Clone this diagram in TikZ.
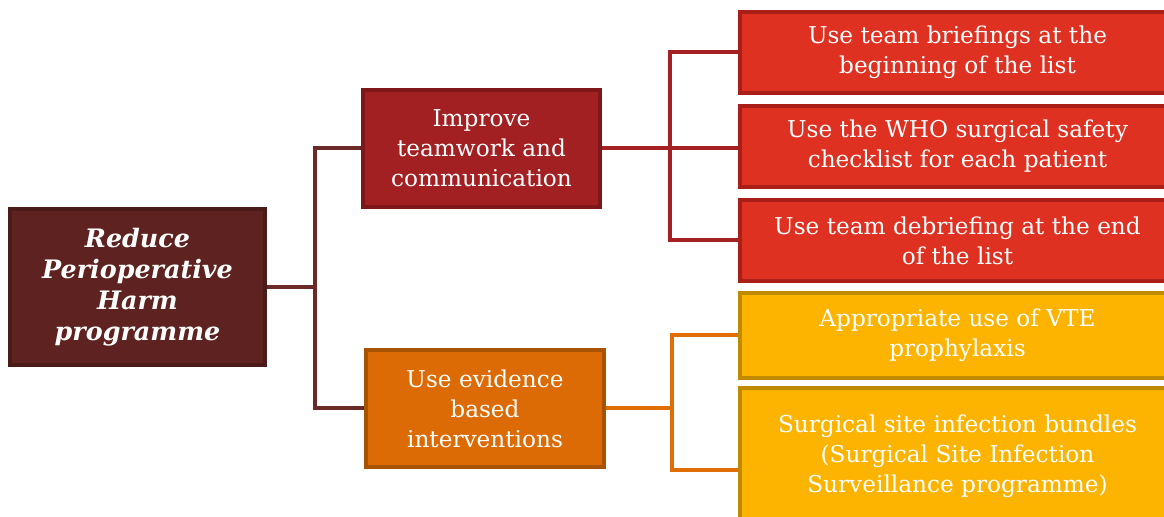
\documentclass[tikz,border=0pt]{standalone}
\usepackage{fontspec}
\setmainfont{DejaVu Serif}
\usepackage{tikz}
\usetikzlibrary{positioning,calc,shadows}

\definecolor{rootfill}{HTML}{5E2320}
\definecolor{rootdraw}{HTML}{4B1B19}
\definecolor{rootline}{HTML}{6B2A27}
\definecolor{impfill}{HTML}{A21F22}
\definecolor{impdraw}{HTML}{7E1719}
\definecolor{impline}{HTML}{A52023}
\definecolor{redfill}{HTML}{DE3121}
\definecolor{reddraw}{HTML}{A91F18}
\definecolor{evifill}{HTML}{DC6A05}
\definecolor{evidraw}{HTML}{A85204}
\definecolor{eviline}{HTML}{DF6E05}
\definecolor{yelfill}{HTML}{FDB400}
\definecolor{yeldraw}{HTML}{BF8A00}

\begin{document}
\begin{tikzpicture}[x=0.5pt, y=-0.5pt, every node/.style={align=center, text=white, font=\fontsize{11.6}{15}\selectfont}]
\tikzset{
  box/.style={draw, line width=2pt, inner sep=2pt, drop shadow={shadow xshift=1pt, shadow yshift=-1.2pt, opacity=0.25}},
  rootbox/.style={box, fill=rootfill, draw=rootdraw, minimum width=127.5pt, minimum height=78pt, font=\fontsize{12.7}{15.5}\selectfont\bfseries\itshape},
  midred/.style={box, fill=impfill, draw=impdraw, minimum width=118.5pt, minimum height=58.5pt},
  midorange/.style={box, fill=evifill, draw=evidraw, minimum width=119pt, minimum height=58.5pt},
  leafred/.style={box, fill=redfill, draw=reddraw, minimum width=217.5pt, minimum height=40.5pt},
  leafyellow/.style={box, fill=yelfill, draw=yeldraw, minimum width=217.5pt},
  conn/.style={line width=2pt}
}
\useasboundingbox (0,0) rectangle (1164,517);
\clip (0,0) rectangle (1164,517);

% root and the two branches
\node[rootbox] (root) at (137.5,287) {Reduce\\Perioperative\\Harm\\programme};
\node[midred] (imp) at (481.5,148.5) {Improve\\teamwork and\\communication};
\node[midorange] (evi) at (485,408.5) {Use evidence\\based\\interventions};

% leaves
\node[leafred] (brief) at (957.5,52.5) {Use team briefings at the\\beginning of the list};
\node[leafred, below=4.5pt of brief] (who) {Use the WHO surgical safety\\checklist for each patient};
\node[leafred, below=4.5pt of who] (debrief) {Use team debriefing at the end\\of the list};
\node[leafyellow, minimum height=42.5pt] (vte) at (957.5,335.5) {Appropriate use of VTE\\prophylaxis};
\node[leafyellow, minimum height=68pt] (ssi) at (957.5,456) {Surgical site infection bundles\\(Surgical Site Infection\\Surveillance programme)};

\coordinate (ja) at (315,287);
\coordinate (jb) at (670,148.5);
\coordinate (jc) at (672,408.5);

\draw[conn, rootline] (root.east) -- (ja);
\draw[conn, rootline] (imp.west) -| (ja) |- (evi.west);
\draw[conn, impline] (imp.east) -- (imp.east -| who.west);
\draw[conn, impline] (brief.west) -| (jb) |- (debrief.west);
\draw[conn, eviline] (evi.east) -- (jc);
\draw[conn, eviline] (vte.west) -| (jc) |- ([yshift=-7pt]ssi.west);
\end{tikzpicture}
\end{document}
